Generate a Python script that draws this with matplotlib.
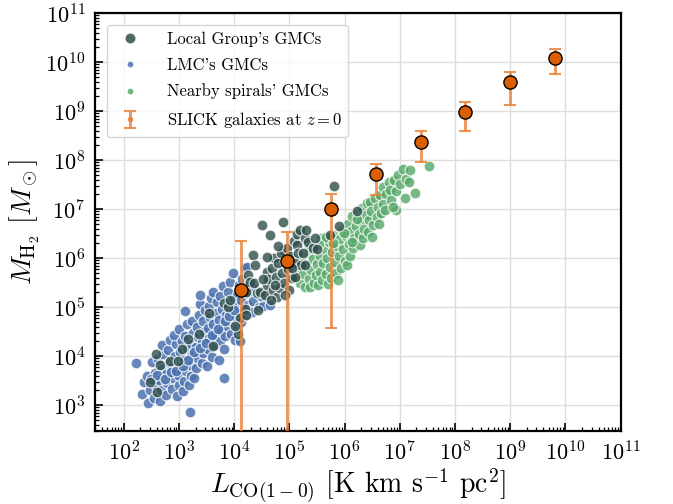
import matplotlib.pyplot as plt
import numpy as np
from matplotlib.lines import Line2D
from matplotlib.ticker import LogLocator, NullFormatter

plt.rcParams.update({
    "font.family": "serif",
    "font.serif": ["cmr10"],
    "mathtext.fontset": "cm",
    "axes.unicode_minus": False,
    "axes.formatter.use_mathtext": True,
})

# log10 of L_CO and M_H2
lmc_logL = [2.22, 2.33, 2.37, 2.44, 2.47, 2.42, 2.52, 2.55, 2.58, 2.56, 2.62, 2.66, 2.68, 2.64, 2.70,
            2.72, 2.69, 2.76, 2.79, 2.77, 2.82, 2.80, 2.84, 2.87, 2.90, 2.88, 2.92, 2.94, 2.91, 2.97,
            3.00, 2.98, 3.03, 3.02, 3.05, 3.01, 3.08, 3.10, 3.12, 3.09, 3.14, 3.11, 3.15, 3.11, 3.20,
            3.18, 3.22, 3.20, 3.24, 3.21, 3.26, 3.23, 3.28, 3.31, 3.33, 3.30, 3.34, 3.32, 3.36, 3.38,
            3.38, 3.41, 3.44, 3.42, 3.46, 3.43, 3.47, 3.50, 3.52, 3.55, 3.53, 3.56, 3.54, 3.58, 3.62,
            3.60, 3.63, 3.65, 3.62, 3.67, 3.69, 3.72, 3.74, 3.76, 3.73, 3.78, 3.75, 3.81, 3.80, 3.82,
            3.84, 3.87, 3.85, 3.89, 3.88, 3.92, 3.94, 3.96, 3.93, 3.98, 3.98, 4.02, 4.05, 4.03, 4.07,
            4.05, 4.08, 4.10, 4.13, 4.15, 4.12, 4.17, 4.15, 4.20, 4.22, 4.25, 4.23, 4.27, 4.23, 4.32,
            4.35, 4.33, 4.45, 4.52, 4.48, 4.65, 4.88,
            2.50, 2.61, 2.74, 2.86, 2.95, 3.07, 3.17, 3.27, 3.39, 3.49, 3.59, 3.70, 3.83, 3.91, 4.00]
lmc_logM = [3.86, 3.22, 3.48, 3.05, 3.30, 3.60, 3.88, 3.15, 3.42, 3.66, 3.95, 3.08, 3.30, 3.52, 3.74,
            4.05, 4.22, 3.20, 3.45, 3.63, 3.86, 4.12, 4.33, 3.33, 3.56, 3.78, 4.00, 4.24, 4.43, 3.18,
            3.40, 3.62, 3.84, 4.08, 4.30, 4.55, 3.28, 3.50, 3.70, 3.92, 4.16, 4.40, 4.65, 4.92, 2.85,
            3.42, 3.60, 3.82, 4.02, 4.25, 4.48, 4.72, 3.55, 3.75, 3.96, 4.18, 4.38, 4.60, 4.84, 5.06,
            5.24, 3.86, 4.06, 4.28, 4.50, 4.72, 4.95, 3.80, 4.14, 4.36, 4.58, 4.80, 5.02, 5.18, 5.31,
            3.98, 4.22, 4.45, 4.66, 4.88, 5.10, 3.92, 4.30, 4.52, 4.74, 4.96, 5.22, 3.56, 5.42, 4.15,
            4.40, 4.62, 4.84, 5.06, 5.30, 5.52, 4.45, 4.70, 4.92, 5.15, 5.69, 4.33, 4.58, 4.80, 5.02,
            5.24, 5.45, 4.30, 4.70, 4.92, 5.14, 5.36, 5.58, 5.80, 4.84, 5.05, 5.28, 5.50, 5.82, 4.90,
            5.12, 5.40, 5.00, 5.02, 5.22, 5.04, 6.16,
            3.54, 3.62, 3.53, 3.68, 3.70, 3.80, 3.93, 4.08, 4.17, 4.26, 4.42, 4.56, 4.71, 4.82, 4.95]

lg_logL = [2.47, 2.60, 2.58, 2.65, 2.84, 2.99, 3.05, 3.17, 3.36, 3.62, 3.54, 3.81, 3.89, 4.07, 4.10,
           4.01, 4.19, 4.22, 4.25, 4.22, 4.28, 4.34, 4.38, 4.41, 4.43, 4.47, 4.50, 4.56, 4.59, 4.59,
           4.65, 4.62, 4.68, 4.70, 4.72, 4.75, 4.78, 4.80, 4.83, 4.85, 4.87, 4.89, 4.90, 4.93, 4.96,
           4.98, 5.00, 5.02, 5.05, 5.08, 5.10, 5.10, 5.13, 5.13, 5.16, 5.19, 5.22, 5.25, 5.28, 5.28,
           5.31, 5.34, 5.43, 5.46, 5.50, 5.73, 5.81, 5.90, 6.22, 3.92,
           4.36, 4.52, 4.66, 4.74, 4.92, 5.04, 4.60, 4.80]
lg_logM = [3.48, 3.27, 4.05, 3.82, 3.90, 3.90, 4.14, 4.34, 4.45, 4.20, 4.87, 5.08, 5.01, 4.46, 4.77,
           4.62, 4.97, 4.84, 5.65, 5.31, 5.52, 6.06, 5.85, 5.28, 4.94, 5.31, 6.67, 5.24, 5.72, 5.45,
           6.47, 5.58, 5.80, 5.35, 6.00, 5.62, 5.20, 5.90, 5.38, 6.10, 5.70, 6.73, 5.50, 5.95, 6.20,
           5.78, 5.35, 6.05, 5.60, 6.35, 5.62, 5.90, 6.27, 6.50, 6.10, 6.57, 5.85, 6.10, 5.86, 6.40,
           6.57, 6.33, 6.20, 6.40, 6.18, 6.47, 7.48, 6.66, 6.96, 5.14,
           5.50, 5.58, 5.15, 5.45, 5.25, 5.80, 6.02, 6.25]

sp_logL = [5.12, 5.16, 5.20, 5.22, 5.25, 5.28, 5.30, 5.33, 5.35, 5.38, 5.40, 5.42, 5.45, 5.46, 5.48,
           5.50, 5.52, 5.55, 5.56, 5.58, 5.60, 5.61, 5.64, 5.66, 5.68, 5.70, 5.72, 5.73, 5.76, 5.78,
           5.80, 5.82, 5.84, 5.86, 5.88, 5.90, 5.92, 5.94, 5.96, 5.98, 6.00, 6.02, 6.04, 6.06, 6.08,
           6.10, 6.12, 6.14, 6.16, 6.18, 6.20, 6.24, 6.26, 6.28, 6.30, 6.32, 6.34, 6.36, 6.38, 6.40,
           6.43, 6.45, 6.46, 6.48, 6.52, 6.55, 6.58, 6.60, 6.64, 6.66, 6.70, 6.70, 6.73, 6.76, 6.80,
           6.82, 6.85, 6.90, 6.94, 6.94, 6.97, 7.00, 7.06, 7.09, 7.12, 7.18, 7.17, 7.27, 7.53,
           5.36, 5.53, 5.67, 5.79, 5.99, 6.13, 6.22, 6.50, 6.62, 6.88]
sp_logM = [5.62, 5.80, 5.50, 5.98, 5.68, 5.40, 5.86, 6.10, 5.58, 5.40, 5.76, 5.98, 5.50, 6.25, 5.66,
           5.88, 5.45, 6.05, 5.72, 6.40, 5.55, 5.90, 6.18, 5.68, 6.00, 5.48, 6.32, 5.82, 5.60, 6.12,
           6.48, 5.92, 5.70, 6.25, 5.55, 6.05, 6.38, 5.80, 6.58, 6.18, 5.95, 6.45, 5.86, 6.70, 6.28,
           6.05, 6.55, 6.85, 6.20, 6.40, 6.65, 6.92, 6.50, 6.27, 6.75, 7.02, 6.40, 6.60, 6.88, 7.12,
           6.54, 6.78, 7.15, 6.95, 6.68, 7.22, 6.84, 7.05, 7.29, 6.92, 7.10, 7.45, 6.98, 7.30, 7.55,
           7.39, 7.18, 7.60, 6.99, 7.36, 7.69, 7.52, 7.82, 7.22, 7.62, 7.80, 7.56, 7.32, 7.88,
           6.20, 6.28, 6.42, 6.30, 6.52, 6.32, 6.80, 6.42, 6.70, 7.04]

slick_L = [1.34e4, 9.0e4, 5.65e5, 3.65e6, 2.38e7, 1.53e8, 9.75e8, 6.37e9]
slick_M = [2.22e5, 8.8e5, 1.0e7, 5.1e7, 2.36e8, 9.4e8, 3.85e9, 1.19e10]
slick_lo = [1.0, 1.0, 3.8e4, 1.97e7, 9.2e7, 3.95e8, 1.32e9, 5.7e9]
slick_hi = [2.26e6, 3.4e6, 2.04e7, 8.4e7, 3.83e8, 1.51e9, 6.4e9, 1.82e10]

c_lg = "#2f4f4b"
c_lmc = "#4c72b0"
c_sp = "#55a868"
c_err = "#e8833a"
c_pt = "#d95f02"

fig = plt.figure(figsize=(6.73, 5.04), dpi=100)
ax = fig.add_axes([0.141, 0.1454, 0.781, 0.8288])

ax.scatter(np.power(10, lmc_logL), np.power(10, lmc_logM), s=60, color=c_lmc, alpha=0.85,
           edgecolor="white", linewidth=0.8, zorder=2)
ax.scatter(np.power(10, sp_logL), np.power(10, sp_logM), s=60, color=c_sp, alpha=0.8,
           edgecolor="white", linewidth=0.8, zorder=2)
ax.scatter(np.power(10, lg_logL), np.power(10, lg_logM), s=60, color=c_lg, alpha=0.8,
           edgecolor="white", linewidth=0.8, zorder=3)

yerr = [np.array(slick_M) - np.array(slick_lo), np.array(slick_hi) - np.array(slick_M)]
eb = ax.errorbar(slick_L, slick_M, yerr=yerr, fmt="o", ms=3, color=c_err, ecolor=c_err,
                 elinewidth=2, capsize=4, capthick=1.5, alpha=0.85, zorder=4)
ax.plot(slick_L, slick_M, "o", ms=9.5, mfc=c_pt, mec="black", mew=1, ls="", zorder=5)

ax.set_xscale("log")
ax.set_yscale("log")
ax.set_xlim(30, 1e11)
ax.set_ylim(300, 1e11)

# only in-range decades get labels
ax.set_xticks(10.0 ** np.arange(2, 12))
ax.set_yticks(10.0 ** np.arange(3, 12))
for axis in (ax.xaxis, ax.yaxis):
    axis.set_minor_locator(LogLocator(base=10, subs=np.arange(2, 10), numticks=100))
    axis.set_minor_formatter(NullFormatter())
ax.set_xlim(30, 1e11)
ax.set_ylim(300, 1e11)

ax.tick_params(which="both", direction="in", top=False, right=False, labelsize=16, width=1.2)
ax.tick_params(which="major", length=6, pad=7)
ax.tick_params(which="minor", length=3, width=0.9)
ax.grid(True, which="major", color="#dddddd", lw=1)
ax.set_axisbelow(True)
for sp in ax.spines.values():
    sp.set_linewidth(1.6)
    sp.set_color("black")

ax.set_xlabel(r"$L_{\rm CO(1-0)}$ [K km s$^{-1}$ pc$^2$]", fontsize=20, labelpad=1)
ax.set_ylabel(r"$M_{\rm H_2}$ [$M_\odot$]", fontsize=20, labelpad=2)

handles = [
    Line2D([], [], marker="o", ls="", ms=8, color=c_lg, alpha=0.85, mec="white"),
    Line2D([], [], marker="o", ls="", ms=5, color=c_lmc, alpha=0.85, mec="white"),
    Line2D([], [], marker="o", ls="", ms=5, color=c_sp, alpha=0.85, mec="white"),
    eb,
]
labels = ["Local Group's GMCs", "LMC's GMCs", "Nearby spirals' GMCs", r"SLICK galaxies at $z=0$"]
leg = ax.legend(handles, labels, loc="upper left", fontsize=12, framealpha=0.8,
                edgecolor="#cccccc", handletextpad=1.2, labelspacing=0.65, borderaxespad=0.7)

fig.savefig("out.png", dpi=100)
